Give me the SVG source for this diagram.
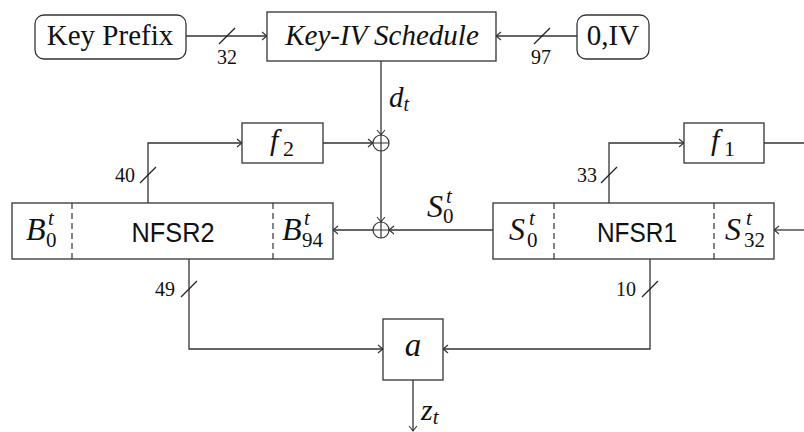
<svg xmlns="http://www.w3.org/2000/svg" width="804" height="432" viewBox="0 0 804 432">
<style>
.box{fill:#fff;stroke:#333;stroke-width:1.3}
.dash{stroke:#333;stroke-width:1.2;stroke-dasharray:6,4}
.ln{fill:none;stroke:#333;stroke-width:1.3}
.sl{stroke:#222;stroke-width:1.2}
.it{font-style:italic}
.num{font-size:20px}
.sf{font-family:"Liberation Sans","DejaVu Sans",Arial,sans-serif}
</style>
<defs>
<marker id="arr" viewBox="-6 -5 7 10" refX="0" refY="0" markerWidth="7" markerHeight="10" markerUnits="userSpaceOnUse" orient="auto">
<path d="M-5,-4 Q-1.5,-1 0,0 Q-1.5,1 -5,4" fill="none" stroke="#333" stroke-width="1.1"/>
</marker>
</defs>
<rect width="804" height="432" fill="#fff"/>

<g font-family="'Times New Roman', 'Liberation Serif', Tinos, 'DejaVu Serif', 'Noto Serif', Times, serif" fill="#111">
<g id="connectors">
<line class="ln" x1="186" y1="36" x2="267" y2="36" marker-end="url(#arr)"/>
<line class="sl" x1="219" y1="44" x2="235" y2="28"/>
<text class="num" x="227" y="64" text-anchor="middle">32</text>
<line class="ln" x1="577" y1="36" x2="496" y2="36" marker-end="url(#arr)"/>
<line class="sl" x1="534" y1="44" x2="550" y2="28"/>
<text class="num" x="541" y="64" text-anchor="middle">97</text>

<line class="ln" x1="381" y1="61" x2="381" y2="135" marker-end="url(#arr)"/>
<text class="it" x="389" y="107" font-size="29">d<tspan font-size="20" y="111">t</tspan></text>
<line class="ln" x1="381" y1="151" x2="381" y2="222" marker-end="url(#arr)"/>

<line class="ln" x1="323" y1="143" x2="373" y2="143" marker-end="url(#arr)"/>
<polyline class="ln" points="148,203 148,143 242,143" marker-end="url(#arr)"/>
<line class="sl" x1="140" y1="183" x2="156" y2="167"/>
<text class="num" x="125" y="182" text-anchor="middle">40</text>

<polyline class="ln" points="609,203 609,143 684,143" marker-end="url(#arr)"/>
<line class="sl" x1="601" y1="183" x2="617" y2="167"/>
<text class="num" x="587" y="182" text-anchor="middle">33</text>
<line class="ln" x1="764" y1="143" x2="804" y2="143"/>
<line class="ln" x1="804" y1="230" x2="774" y2="230" marker-end="url(#arr)"/>

<line class="ln" x1="493" y1="230" x2="389" y2="230" marker-end="url(#arr)"/>
<line class="ln" x1="373" y1="230" x2="333" y2="230" marker-end="url(#arr)"/>
<text class="it" x="427" y="217" font-size="32">S</text>
<text class="it" x="446" y="203" font-size="21">t</text>
<text x="443" y="223" font-size="21">0</text>

<polyline class="ln" points="189,259 189,349 383,349" marker-end="url(#arr)"/>
<line class="sl" x1="181" y1="297" x2="197" y2="281"/>
<text class="num" x="165" y="296" text-anchor="middle">49</text>
<polyline class="ln" points="650,259 650,349 443,349" marker-end="url(#arr)"/>
<line class="sl" x1="642" y1="297" x2="658" y2="281"/>
<text class="num" x="626" y="296" text-anchor="middle">10</text>

<line class="ln" x1="413" y1="380" x2="413" y2="431" marker-end="url(#arr)"/>
<text class="it" x="421" y="420" font-size="30">z<tspan font-size="21" y="424">t</tspan></text>
</g>

<g id="keyprefix">
<rect class="box" x="35" y="15" width="151" height="44" rx="9"/>
<text x="110" y="45" font-size="29" text-anchor="middle">Key Prefix</text>
</g>
<g id="kivschedule">
<rect class="box" x="267" y="12" width="229" height="49"/>
<text class="it" x="382" y="45" font-size="29" text-anchor="middle">Key-IV Schedule</text>
</g>
<g id="ziv">
<rect class="box" x="577" y="15" width="72" height="44" rx="9"/>
<text x="613" y="45" font-size="29" text-anchor="middle">0,IV</text>
</g>

<g id="f2">
<rect class="box" x="242" y="123" width="81" height="40"/>
<text class="it" x="270" y="150" font-size="30">f</text>
<text x="283" y="156" font-size="22">2</text>
</g>
<g id="f1">
<rect class="box" x="684" y="123" width="80" height="40"/>
<text class="it" x="711" y="150" font-size="30">f</text>
<text x="724" y="156" font-size="22">1</text>
</g>

<g id="xor1">
<circle cx="381" cy="143" r="8" fill="#fff" stroke="#333" stroke-width="1.2"/>
<path d="M373,143H389M381,135V151" stroke="#333" stroke-width="1.2"/>
</g>
<g id="xor2">
<circle cx="381" cy="230" r="8" fill="#fff" stroke="#333" stroke-width="1.2"/>
<path d="M373,230H389M381,222V238" stroke="#333" stroke-width="1.2"/>
</g>

<g id="nfsr2">
<rect class="box" x="12" y="203" width="321" height="56"/>
<line class="dash" x1="72" y1="203" x2="72" y2="259"/>
<line class="dash" x1="273" y1="203" x2="273" y2="259"/>
<text class="it" x="26" y="240" font-size="32">B</text>
<text class="it" x="48" y="225" font-size="21">t</text>
<text x="46" y="247" font-size="21">0</text>
<text class="sf" x="173" y="242" font-size="27" text-anchor="middle" textLength="83" lengthAdjust="spacingAndGlyphs">NFSR2</text>
<text class="it" x="282" y="240" font-size="32">B</text>
<text class="it" x="304" y="225" font-size="21">t</text>
<text x="302" y="247" font-size="21">94</text>
</g>

<g id="nfsr1">
<rect class="box" x="493" y="203" width="281" height="56"/>
<line class="dash" x1="554" y1="203" x2="554" y2="259"/>
<line class="dash" x1="714" y1="203" x2="714" y2="259"/>
<text class="it" x="509" y="240" font-size="32">S</text>
<text class="it" x="529" y="225" font-size="21">t</text>
<text x="527" y="247" font-size="21">0</text>
<text class="sf" x="637" y="242" font-size="27" text-anchor="middle" textLength="80" lengthAdjust="spacingAndGlyphs">NFSR1</text>
<text class="it" x="725" y="240" font-size="32">S</text>
<text class="it" x="746" y="225" font-size="21">t</text>
<text x="744" y="247" font-size="21">32</text>
</g>

<g id="a">
<rect class="box" x="383" y="319" width="60" height="61"/>
<text class="it" x="413" y="356" font-size="33" text-anchor="middle">a</text>
</g>
</g>
</svg>
